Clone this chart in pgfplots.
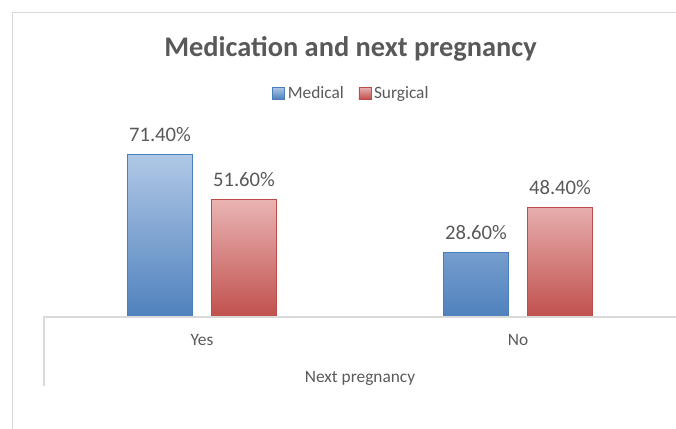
\documentclass[border=0pt]{standalone}
\usepackage{fontspec}
\setmainfont{Carlito}
\usepackage{pgfplots}
\pgfplotsset{compat=1.18}
\definecolor{txt}{HTML}{595959}
\definecolor{framec}{HTML}{D9D9D9}
\definecolor{medB}{HTML}{4A7EBB}
\definecolor{medT}{HTML}{B0C8E6}
\definecolor{medD}{HTML}{4F81BD}
\definecolor{surB}{HTML}{BE4B48}
\definecolor{surT}{HTML}{E9B4B3}
\definecolor{surD}{HTML}{C0504D}
\begin{document}
\begin{tikzpicture}
\useasboundingbox (0,0) rectangle (507pt,321.75pt);
\draw[framec, line width=0.9pt] (9.4pt,0) -- (9.4pt,312.4pt) -- (520pt,312.4pt);
\node[text=txt, font=\fontsize{21.3pt}{25pt}\selectfont\bfseries, anchor=base, inner sep=0pt] at (262.9pt,279.4pt) {Medication and next pregnancy};
\begin{axis}[
  at={(33pt,84pt)}, anchor=south west,
  scale only axis, width=474pt, height=136.2pt,
  xmin=-0.5, xmax=1.5, ymin=0, ymax=80,
  separate axis lines,
  axis x line*=bottom, axis y line=none,
  x axis line style={draw=none},
  xtick={0,1}, xticklabels={Yes,No}, major tick length=0pt,
  xticklabel style={anchor=base, yshift=-21.4pt, text=txt, font=\fontsize{13pt}{15pt}\selectfont},
  ytick=\empty,
  ybar=14.25pt, bar width=48.75pt,
  legend image code/.code={\draw[#1, line width=0.6pt] (0pt,-4.5pt) rectangle (9pt,4.5pt);},
  nodes near coords={\pgfmathprintnumber[fixed,fixed zerofill,precision=2]{\pgfplotspointmeta}\%},
  nodes near coords style={anchor=base, inner sep=0pt, yshift=9.75pt, text=txt, font=\fontsize{15.5pt}{18pt}\selectfont},
  /pgf/number format/assume math mode=true,
  xlabel={Next pregnancy},
  xlabel style={at={(axis description cs:0.5,0)}, anchor=base, yshift=-49.1pt, text=txt, font=\fontsize{13pt}{15pt}\selectfont, inner sep=0pt},
  legend columns=2,
  legend style={at={(0.487,1.2335)}, anchor=center, draw=none, fill=none, text=txt, font=\fontsize{13pt}{15pt}\selectfont, /tikz/every even column/.append style={column sep=9pt}, inner sep=0pt},
  clip=false
]
\addplot[draw=medB, line width=0.75pt, top color=medT, bottom color=medD] coordinates {(0,71.4) (1,28.6)};
\addplot[draw=surB, line width=0.75pt, top color=surT, bottom color=surD] coordinates {(0,51.6) (1,48.4)};
\legend{Medical,Surgical}
\draw[framec, line width=0.9pt] (rel axis cs:0,0) ++(0pt,-51.75pt) -- (rel axis cs:0,0) -- (rel axis cs:1.05,0);
\end{axis}
\end{tikzpicture}
\end{document}
